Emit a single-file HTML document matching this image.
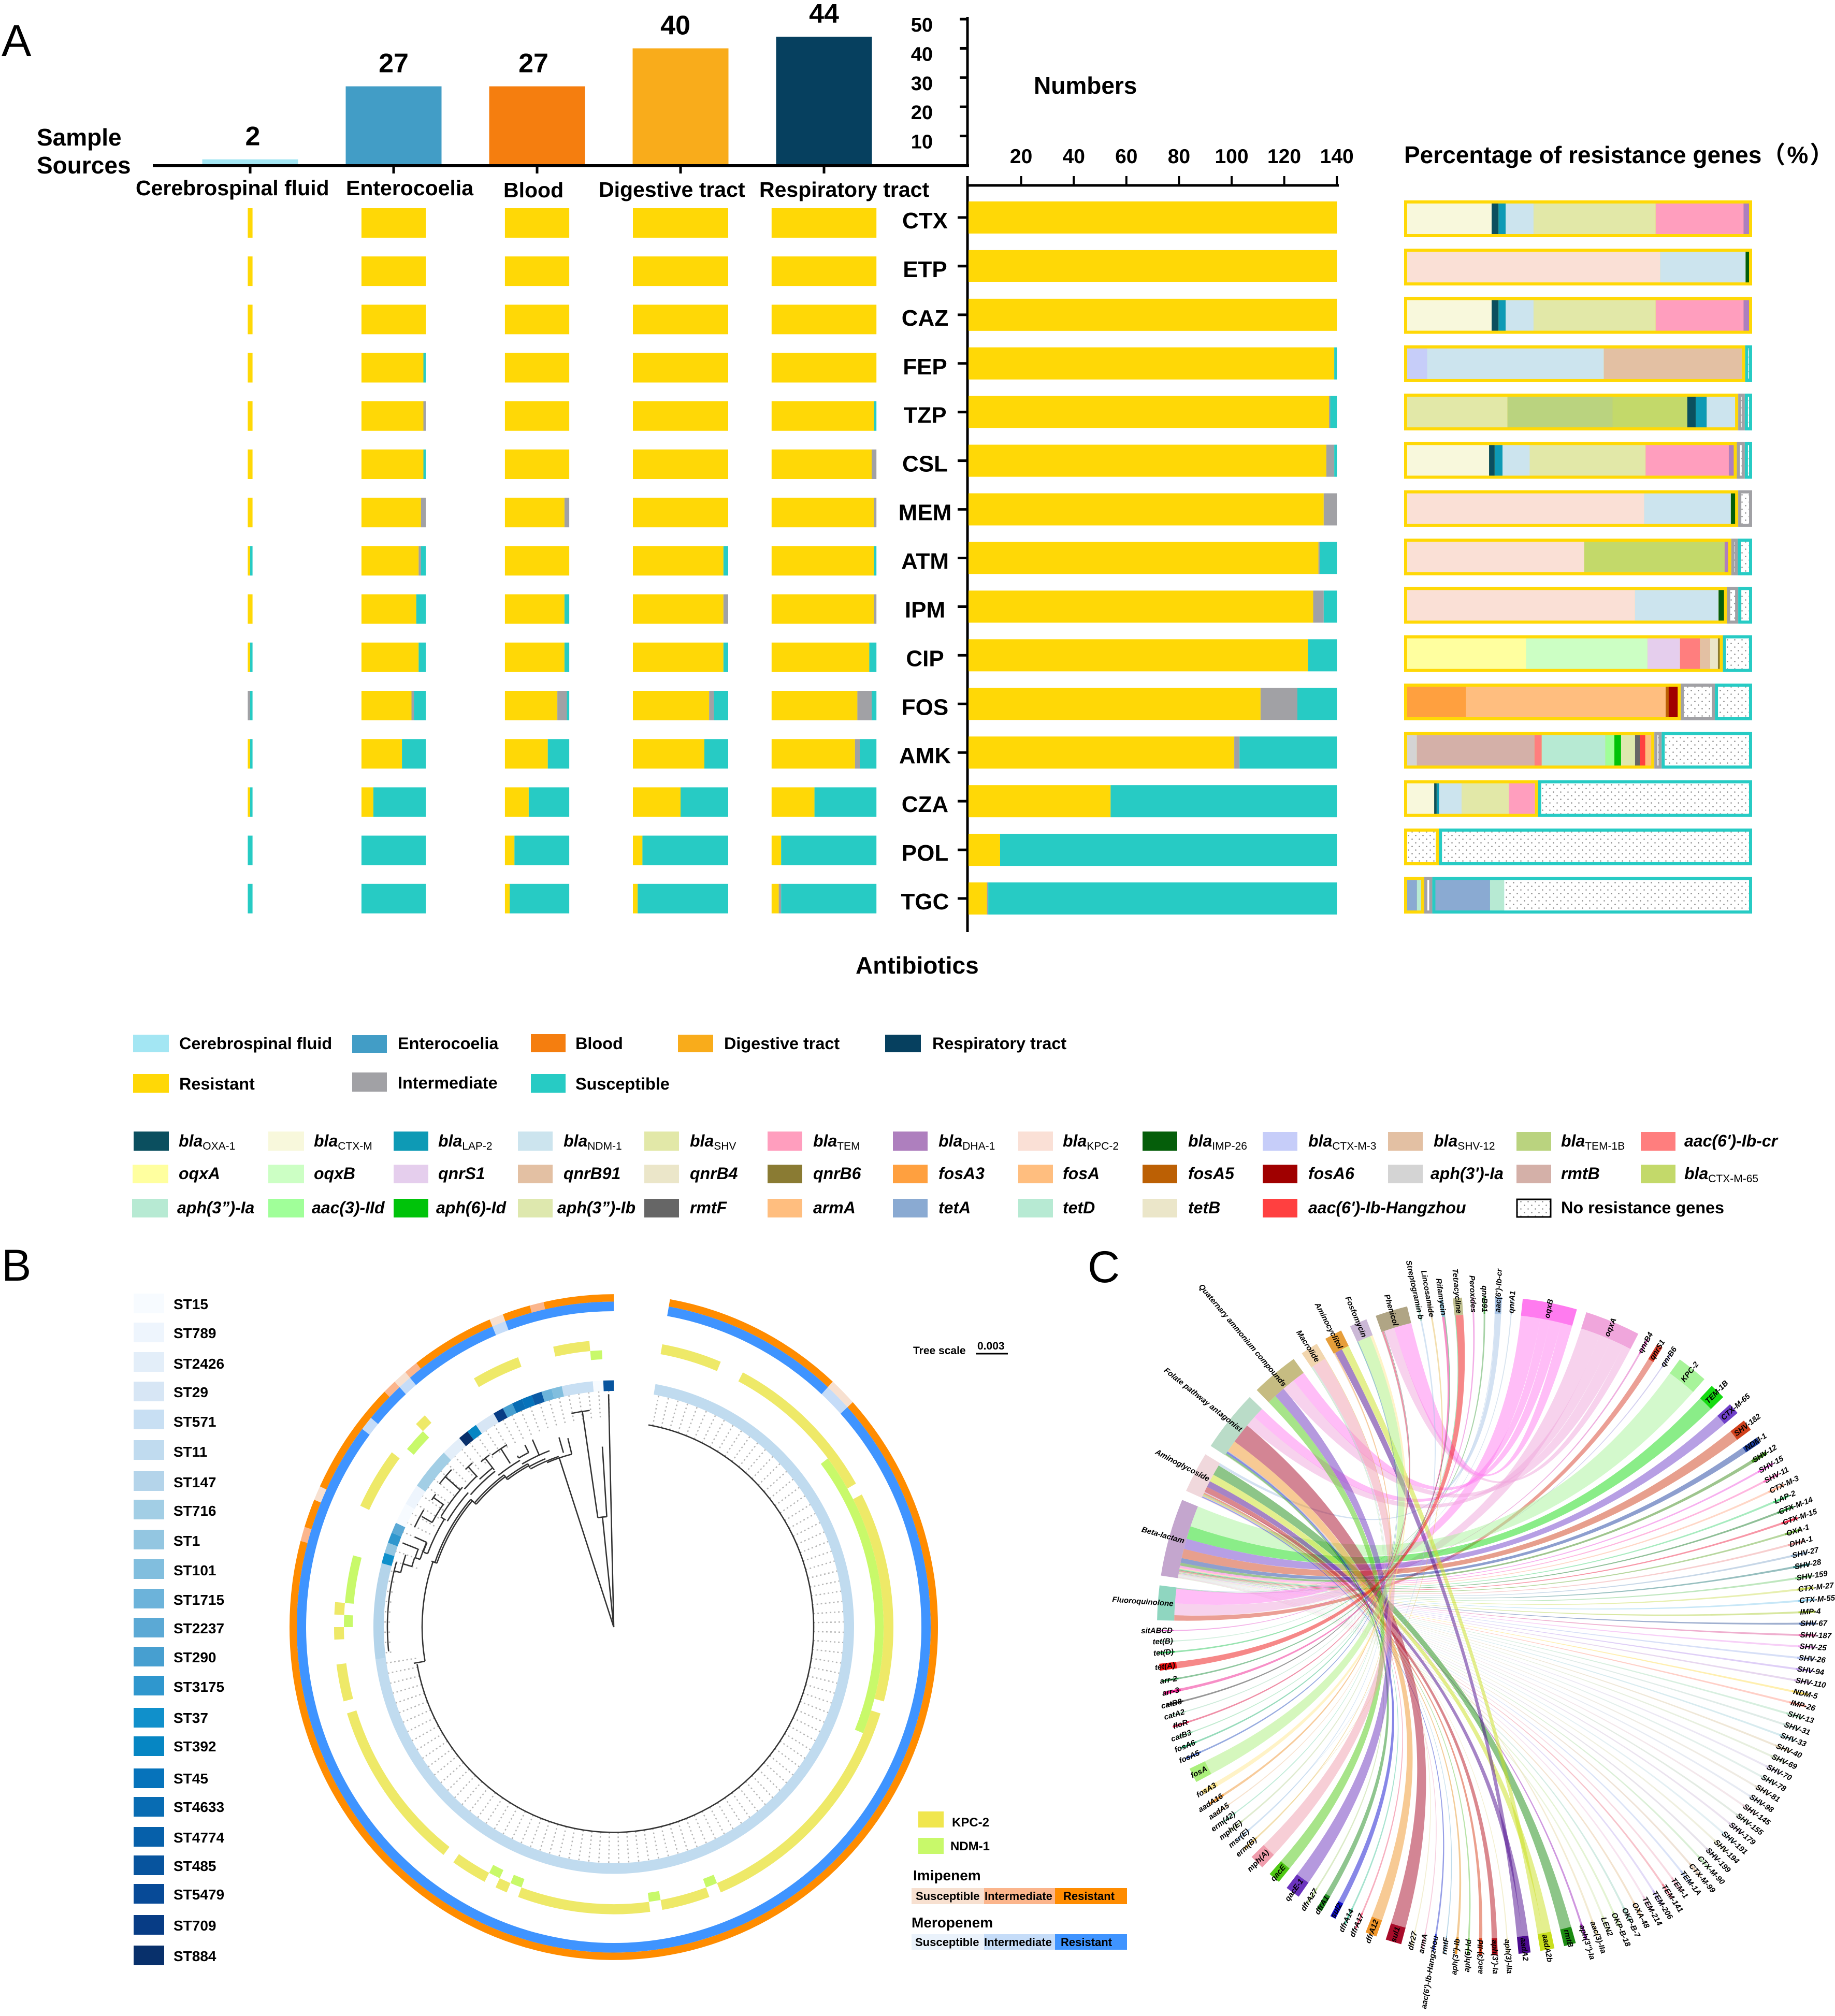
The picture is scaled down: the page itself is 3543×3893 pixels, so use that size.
<!DOCTYPE html>
<html lang="en">
<head>
<meta charset="utf-8">
<title>Antimicrobial resistance overview</title>
<style>
html,body{margin:0;padding:0;background:#fff}
svg{display:block}
text{font-family:"Liberation Sans","Noto Sans CJK SC",sans-serif;fill:#000}
.b{font-weight:bold}
.leg{font-weight:bold;font-size:32.4px}
.gene{font-weight:bold;font-style:italic;font-size:32px}
.sub{font-weight:normal;font-style:normal;font-size:21px}
.st{font-weight:bold;font-size:28px}
.ax{font-weight:bold;font-size:46px}
.sc{font-weight:bold;font-size:41px}
</style>
</head>
<body>
<svg id="figure" xmlns="http://www.w3.org/2000/svg" width="3543" height="3893" viewBox="0 0 3543 3893">
<defs>
<pattern id="dots" patternUnits="userSpaceOnUse" width="14" height="14">
<rect width="14" height="14" fill="#fff"/>
<circle cx="3.5" cy="3.5" r="1.3" fill="#8a8a8a"/>
<circle cx="10.5" cy="10.5" r="1.3" fill="#8a8a8a"/>
</pattern>
</defs>
<rect width="3543" height="3893" fill="#fff"/>

<text x="3" y="108" font-size="86">A</text>
<text x="3" y="2473" font-size="86">B</text>
<text x="2100" y="2476" font-size="86">C</text>

<g id="panelA"></g>

<text class="ax" x="71" y="281">Sample</text>
<text class="ax" x="71" y="335">Sources</text>
<text class="sc" x="262" y="377">Cerebrospinal fluid</text>
<text class="sc" x="668" y="377">Enterocoelia</text>
<text class="sc" x="972" y="381">Blood</text>
<text class="sc" x="1156" y="380">Digestive tract</text>
<text class="sc" x="1466" y="380">Respiratory tract</text>
<text class="ax" x="1996" y="181">Numbers</text>
<text class="ax" x="1652" y="1880">Antibiotics</text>
<text class="b" x="2711" y="315" font-size="46">Percentage of resistance genes<tspan letter-spacing="3">（%）</tspan></text>

<g>
<rect x="257" y="1998" width="69" height="34" fill="#A3E6F3"/>
<text class="leg" x="346" y="2026">Cerebrospinal fluid</text>
<rect x="680" y="1999" width="67" height="34" fill="#429DC6"/>
<text class="leg" x="768" y="2026">Enterocoelia</text>
<rect x="1025" y="1997" width="67" height="35" fill="#F57E0F"/>
<text class="leg" x="1111" y="2026">Blood</text>
<rect x="1309" y="1998" width="68" height="34" fill="#F9AC1B"/>
<text class="leg" x="1398" y="2026">Digestive tract</text>
<rect x="1709" y="1998" width="69" height="34" fill="#06405F"/>
<text class="leg" x="1800" y="2026">Respiratory tract</text>
<rect x="257" y="2074" width="69" height="36" fill="#FFD806"/>
<text class="leg" x="346" y="2104">Resistant</text>
<rect x="680" y="2071" width="67" height="37" fill="#A1A1A5"/>
<text class="leg" x="768" y="2102">Intermediate</text>
<rect x="1025" y="2074" width="67" height="36" fill="#27CBC4"/>
<text class="leg" x="1111" y="2104">Susceptible</text>
</g>

<g>
<g>
<rect x="258" y="2185" width="68" height="37" fill="#0B4F5F"/>
<text class="gene" x="345" y="2214">bla<tspan class="sub" dy="6">OXA-1</tspan></text>
<rect x="518" y="2185" width="69" height="37" fill="#F8F8DC"/>
<text class="gene" x="606" y="2214">bla<tspan class="sub" dy="6">CTX-M</tspan></text>
<rect x="760" y="2185" width="67" height="37" fill="#0E9AB5"/>
<text class="gene" x="846" y="2214">bla<tspan class="sub" dy="6">LAP-2</tspan></text>
<rect x="1000" y="2185" width="67" height="37" fill="#CCE4EE"/>
<text class="gene" x="1088" y="2214">bla<tspan class="sub" dy="6">NDM-1</tspan></text>
<rect x="1244" y="2185" width="67" height="37" fill="#E2E8A8"/>
<text class="gene" x="1332" y="2214">bla<tspan class="sub" dy="6">SHV</tspan></text>
<rect x="1482" y="2185" width="67" height="37" fill="#FF9EBE"/>
<text class="gene" x="1570" y="2214">bla<tspan class="sub" dy="6">TEM</tspan></text>
<rect x="1724" y="2185" width="67" height="37" fill="#AE7FBE"/>
<text class="gene" x="1812" y="2214">bla<tspan class="sub" dy="6">DHA-1</tspan></text>
<rect x="1966" y="2185" width="67" height="37" fill="#FAE0D6"/>
<text class="gene" x="2052" y="2214">bla<tspan class="sub" dy="6">KPC-2</tspan></text>
<rect x="2206" y="2185" width="67" height="37" fill="#055E0A"/>
<text class="gene" x="2294" y="2214">bla<tspan class="sub" dy="6">IMP-26</tspan></text>
<rect x="2438" y="2186" width="67" height="36" fill="#C6CDF9"/>
<text class="gene" x="2526" y="2214">bla<tspan class="sub" dy="6">CTX-M-3</tspan></text>
<rect x="2680" y="2186" width="67" height="36" fill="#E3C0A3"/>
<text class="gene" x="2768" y="2214">bla<tspan class="sub" dy="6">SHV-12</tspan></text>
<rect x="2928" y="2186" width="67" height="36" fill="#BAD37F"/>
<text class="gene" x="3014" y="2214">bla<tspan class="sub" dy="6">TEM-1B</tspan></text>
<rect x="3168" y="2186" width="67" height="36" fill="#FF7E7E"/>
<text class="gene" x="3252" y="2214">aac(6')-Ib-cr</text>
</g>
<g>
<rect x="256" y="2249" width="69" height="36" fill="#FFFF9F"/>
<text class="gene" x="345" y="2277">oqxA</text>
<rect x="518" y="2249" width="69" height="36" fill="#CCFFC4"/>
<text class="gene" x="606" y="2277">oqxB</text>
<rect x="760" y="2249" width="67" height="36" fill="#E5CEED"/>
<text class="gene" x="846" y="2277">qnrS1</text>
<rect x="1000" y="2249" width="67" height="36" fill="#E3C0A3"/>
<text class="gene" x="1088" y="2277">qnrB91</text>
<rect x="1244" y="2249" width="67" height="36" fill="#EBE6C9"/>
<text class="gene" x="1332" y="2277">qnrB4</text>
<rect x="1482" y="2249" width="67" height="36" fill="#8A7B33"/>
<text class="gene" x="1570" y="2277">qnrB6</text>
<rect x="1724" y="2249" width="67" height="36" fill="#FFA03F"/>
<text class="gene" x="1812" y="2277">fosA3</text>
<rect x="1966" y="2249" width="67" height="36" fill="#FFBE7F"/>
<text class="gene" x="2052" y="2277">fosA</text>
<rect x="2206" y="2249" width="67" height="36" fill="#BC6004"/>
<text class="gene" x="2294" y="2277">fosA5</text>
<rect x="2438" y="2249" width="67" height="36" fill="#A00000"/>
<text class="gene" x="2526" y="2277">fosA6</text>
<rect x="2680" y="2249" width="67" height="36" fill="#D4D4D4"/>
<text class="gene" x="2762" y="2277">aph(3')-Ia</text>
<rect x="2928" y="2249" width="67" height="36" fill="#D4B0A8"/>
<text class="gene" x="3014" y="2277">rmtB</text>
<rect x="3168" y="2249" width="67" height="36" fill="#C3D96A"/>
<text class="gene" x="3252" y="2277">bla<tspan class="sub" dy="6">CTX-M-65</tspan></text>
</g>
<g>
<rect x="255" y="2315" width="69" height="36" fill="#B7EAD3"/>
<text class="gene" x="342" y="2343">aph(3”)-Ia</text>
<rect x="518" y="2315" width="69" height="36" fill="#A0FF99"/>
<text class="gene" x="602" y="2343">aac(3)-IId</text>
<rect x="760" y="2315" width="67" height="36" fill="#00C30A"/>
<text class="gene" x="842" y="2343">aph(6)-Id</text>
<rect x="1000" y="2315" width="67" height="36" fill="#DEE8AE"/>
<text class="gene" x="1076" y="2343">aph(3”)-Ib</text>
<rect x="1244" y="2315" width="67" height="36" fill="#666666"/>
<text class="gene" x="1332" y="2343">rmtF</text>
<rect x="1482" y="2315" width="67" height="36" fill="#FFBE7F"/>
<text class="gene" x="1570" y="2343">armA</text>
<rect x="1724" y="2315" width="67" height="36" fill="#8AAAD2"/>
<text class="gene" x="1812" y="2343">tetA</text>
<rect x="1966" y="2315" width="67" height="36" fill="#B7EAD3"/>
<text class="gene" x="2052" y="2343">tetD</text>
<rect x="2206" y="2315" width="67" height="36" fill="#EBE6C9"/>
<text class="gene" x="2294" y="2343">tetB</text>
<rect x="2438" y="2315" width="67" height="36" fill="#FF4040"/>
<text class="gene" x="2526" y="2343">aac(6')-Ib-Hangzhou</text>
<rect x="2929" y="2316" width="65" height="34" fill="url(#dots)" stroke="#000" stroke-width="3"/>
<text class="leg" x="3014" y="2343">No resistance genes</text>
</g>
</g>

<g>
<rect x="258" y="2498" width="59" height="38" fill="#F7FBFF"/><text class="st" x="335" y="2528">ST15</text>
<rect x="258" y="2554" width="59" height="38" fill="#EEF5FD"/><text class="st" x="335" y="2584">ST789</text>
<rect x="258" y="2611" width="59" height="38" fill="#E3EEF9"/><text class="st" x="335" y="2643">ST2426</text>
<rect x="258" y="2668" width="59" height="38" fill="#D7E6F5"/><text class="st" x="335" y="2698">ST29</text>
<rect x="258" y="2722" width="59" height="38" fill="#C8DFF3"/><text class="st" x="335" y="2755">ST571</text>
<rect x="258" y="2781" width="59" height="38" fill="#C0DBEF"/><text class="st" x="335" y="2813">ST11</text>
<rect x="258" y="2841" width="59" height="38" fill="#B4D4EA"/><text class="st" x="335" y="2872">ST147</text>
<rect x="258" y="2896" width="59" height="38" fill="#A2CEE5"/><text class="st" x="335" y="2927">ST716</text>
<rect x="258" y="2954" width="59" height="38" fill="#93C6E1"/><text class="st" x="335" y="2985">ST1</text>
<rect x="258" y="3011" width="59" height="38" fill="#81BEDE"/><text class="st" x="335" y="3042">ST101</text>
<rect x="258" y="3068" width="59" height="38" fill="#6CB3DA"/><text class="st" x="335" y="3099">ST1715</text>
<rect x="258" y="3124" width="59" height="38" fill="#5BA9D5"/><text class="st" x="335" y="3154">ST2237</text>
<rect x="258" y="3180" width="59" height="38" fill="#479FD0"/><text class="st" x="335" y="3210">ST290</text>
<rect x="258" y="3236" width="59" height="38" fill="#2F97CE"/><text class="st" x="335" y="3267">ST3175</text>
<rect x="258" y="3298" width="59" height="38" fill="#1090CB"/><text class="st" x="335" y="3327">ST37</text>
<rect x="258" y="3353" width="59" height="38" fill="#0686C3"/><text class="st" x="335" y="3382">ST392</text>
<rect x="258" y="3415" width="59" height="38" fill="#0673BB"/><text class="st" x="335" y="3444">ST45</text>
<rect x="258" y="3470" width="59" height="38" fill="#086CB3"/><text class="st" x="335" y="3499">ST4633</text>
<rect x="258" y="3528" width="59" height="38" fill="#0660AA"/><text class="st" x="335" y="3558">ST4774</text>
<rect x="258" y="3583" width="59" height="38" fill="#07549E"/><text class="st" x="335" y="3613">ST485</text>
<rect x="258" y="3638" width="59" height="38" fill="#074A97"/><text class="st" x="335" y="3668">ST5479</text>
<rect x="258" y="3698" width="59" height="38" fill="#073C85"/><text class="st" x="335" y="3728">ST709</text>
<rect x="258" y="3757" width="59" height="38" fill="#08306B"/><text class="st" x="335" y="3787">ST884</text>
</g>

<g id="panelB"></g>

<g>
<text x="1763" y="2615" font-size="21" font-weight="bold">Tree scale</text>
<text x="1887" y="2606" font-size="21" font-weight="bold">0.003</text>
<line x1="1884" x2="1946" y1="2614" y2="2614" stroke="#000" stroke-width="3"/>
<rect x="1773" y="3498" width="49" height="31" fill="#F0E64E"/>
<text x="1838" y="3527" font-size="24" font-weight="bold">KPC-2</text>
<rect x="1773" y="3549" width="49" height="31" fill="#C8F96A"/>
<text x="1835" y="3573" font-size="24" font-weight="bold">NDM-1</text>
<text x="1763" y="3631" font-size="28" font-weight="bold">Imipenem</text>
<rect x="1760" y="3646" width="140" height="31" fill="#F7E0D0"/>
<rect x="1900" y="3646" width="137" height="31" fill="#FBB58C"/>
<rect x="2037" y="3646" width="139" height="31" fill="#FF8C00"/>
<text x="1768" y="3669" font-size="22" font-weight="bold">Susceptible</text>
<text x="1901" y="3669" font-size="22" font-weight="bold">Intermediate</text>
<text x="2053" y="3669" font-size="22" font-weight="bold">Resistant</text>
<text x="1760" y="3722" font-size="28" font-weight="bold">Meropenem</text>
<rect x="1760" y="3735" width="140" height="30" fill="#EAF2FB"/>
<rect x="1900" y="3735" width="137" height="30" fill="#C5DCF8"/>
<rect x="2037" y="3735" width="139" height="30" fill="#3F94FF"/>
<text x="1767" y="3758" font-size="22" font-weight="bold">Susceptible</text>
<text x="1900" y="3758" font-size="22" font-weight="bold">Intermediate</text>
<text x="2048" y="3758" font-size="22" font-weight="bold">Resistant</text>
</g>

<g id="panelC"></g>
</svg>

<script>
/* ---------- Panel A data ---------- */
const antibiotics = ['CTX','ETP','CAZ','FEP','TZP','CSL','MEM','ATM','IPM','CIP','FOS','AMK','CZA','POL','TGC'];
const sourceNames = ['Cerebrospinal fluid','Enterocoelia','Blood','Digestive tract','Respiratory tract'];
const sourceCounts = [2,27,27,40,44];
const sourceColors = ['#A3E6F3','#429DC6','#F57E0F','#F9AC1B','#06405F'];
const topAxisTicks = [10,20,30,40,50];
const numberAxisTicks = [20,40,60,80,100,120,140];
/* resistant, intermediate, susceptible isolates for each antibiotic */
const totalRIS = [[140,0,0],[140,0,0],[140,0,0],[139,0,1],[137,0.5,2.5],[136,3,1],[135,5,0],[133,0.5,6.5],[131,4,5],[129,0,11],[111,14,15],[101,2,37],[54,0,86],[12,0,128],[7,0.5,132.5]];
const csfRIS = [[2,0,0],[2,0,0],[2,0,0],[2,0,0],[2,0,0],[2,0,0],[2,0,0],[1,0,1],[2,0,0],[1,0,1],[0,1,1],[1,0,1],[1,0,1],[0,0,2],[0,0,2]];
const enterocoeliaRIS = [[27,0,0],[27,0,0],[27,0,0],[26,0,1],[26,1,0],[26,0,1],[25,2,0],[24,1,2],[23,0,4],[24,0,3],[21,1,5],[17,0,10],[5,0,22],[0,0,27],[0,0,27]];
const bloodRIS = [[27,0,0],[27,0,0],[27,0,0],[27,0,0],[27,0,0],[27,0,0],[25,2,0],[27,0,0],[25,0,2],[25,0,2],[22,4,1],[18,0,9],[10,0,17],[4,0,23],[2,0,25]];
const digestiveRIS = [[40,0,0],[40,0,0],[40,0,0],[40,0,0],[40,0,0],[40,0,0],[40,0,0],[38,0,2],[38,2,0],[38,0,2],[32,2,6],[30,0,10],[20,0,20],[4,0,36],[2,0,38]];
const respiratoryRIS = [[44,0,0],[44,0,0],[44,0,0],[44,0,0],[43,0,1],[42,2,0],[43,1,0],[43,0,1],[43,1,0],[41,0,3],[36,6,2],[35,2,7],[18,0,26],[4,0,40],[3,1,40]];
const risColors = ['#FFD806','#A1A1A5','#27CBC4'];
const risNames = ['resistant','intermediate','susceptible'];
/* share of the percentage bar held by R / I / S */
const groupShares = [[100,0,0],[100,0,0],[100,0,0],[98,0,2],[96,1.9,2.1],[95.6,2.3,2.1],[96,4,0],[94,1.9,4.1],[92.8,3.2,4],[91.6,0,8.4],[79.5,9.8,10.7],[71.9,2.1,26],[38.5,0,61.5],[10,0,90],[5.8,2.3,91.9]];
const geneFill = {oxa1:'#0B4F5F',ctxm:'#F8F8DC',lap2:'#0E9AB5',ndm1:'#CCE4EE',shv:'#E2E8A8',tem:'#FF9EBE',dha1:'#AE7FBE',kpc2:'#FAE0D6',imp26:'#055E0A',ctxm3:'#C6CDF9',shv12:'#E3C0A3',tem1b:'#BAD37F',aaccr:'#FF7E7E',oqxA:'#FFFF9F',oqxB:'#CCFFC4',qnrS1:'#E5CEED',qnrB91:'#E3C0A3',qnrB4:'#EBE6C9',qnrB6:'#8A7B33',fosA3:'#FFA03F',fosA:'#FFBE7F',fosA5:'#BC6004',fosA6:'#A00000',aph3Ia:'#D4D4D4',rmtB:'#D4B0A8',ctxm65:'#C3D96A',aph3ppIa:'#B7EAD3',aac3IId:'#A0FF99',aph6Id:'#00C30A',aph3ppIb:'#DEE8AE',rmtF:'#666666',armA:'#FFBE7F',tetA:'#8AAAD2',tetD:'#B7EAD3',hangzhou:'#FF4040',none:'url(#dots)'};
const resistantGenes = [
 [['ctxm',24.7],['oxa1',2],['lap2',2.1],['ndm1',8.2],['shv',35.7],['tem',25.7],['dha1',1.6]],
 [['kpc2',74],['ndm1',25],['imp26',1]],
 [['ctxm',24.7],['oxa1',2],['lap2',2.1],['ndm1',8.2],['shv',35.7],['tem',25.7],['dha1',1.6]],
 [['ctxm3',5.9],['ndm1',52.3],['shv12',40.9]],
 [['shv',30],['tem1b',31.5],['ctxm65',22.3],['oxa1',2.5],['lap2',3.3],['ndm1',8.5]],
 [['ctxm',25],['oxa1',1.7],['lap2',2.4],['ndm1',8.3],['shv',35.4],['tem',25.4],['dha1',1.5]],
 [['kpc2',72.4],['ndm1',26.5],['imp26',1.3]],
 [['kpc2',55.5],['ctxm65',44],['dha1',1.1]],
 [['kpc2',72],['ndm1',26.4],['imp26',1.7]],
 [['oqxA',38.3],['oqxB',39.1],['qnrS1',10.5],['aaccr',6.4],['qnrB91',3.3],['qnrB4',2.5],['qnrB6',0.6]],
 [['fosA3',22],['fosA',74.8],['fosA5',1.1],['fosA6',3.4]],
 [['aph3Ia',4.1],['rmtB',49.5],['aaccr',3],['aph3ppIa',26.8],['aac3IId',3.8],['aph6Id',2.8],['aph3ppIb',5.9],['rmtF',2],['hangzhou',2.3],['armA',2.5]],
 [['ctxm',21],['oxa1',1.9],['lap2',1.9],['ndm1',17.5],['shv',36.8],['tem',20.3]],
 [['none',100]],
 [['tetA',70],['tetD',30]]
];
const susceptibleGenes = [[],[],[],[['none',100]],[['none',100]],[['none',100]],[],[['none',100]],[['none',100]],[['none',100]],[['none',100]],[['none',100]],[['none',100]],[['none',100]],[['tetA',17.4],['tetD',4.5],['none',78]]];

/* ---------- Panel B data ---------- */
const stColors = {ST15:'#F7FBFF',ST789:'#EEF5FD',ST2426:'#E3EEF9',ST29:'#D7E6F5',ST571:'#C8DFF3',ST11:'#C0DBEF',ST147:'#B4D4EA',ST716:'#A2CEE5',ST1:'#93C6E1',ST101:'#81BEDE',ST1715:'#6CB3DA',ST2237:'#5BA9D5',ST290:'#479FD0',ST3175:'#2F97CE',ST37:'#1090CB',ST392:'#0686C3',ST45:'#0673BB',ST4633:'#086CB3',ST4774:'#0660AA',ST485:'#07549E',ST5479:'#0B5AA5',ST709:'#073C85',ST884:'#08306B'};
const isolateCount = 140;
/* consecutive isolates around the tree: [sequence type, number of isolates] */
const stRuns = [['ST11',101],['ST147',9],['ST37',1],['ST1',1],['ST3175',1],['ST2237',1],['ST15',2],['ST789',2],['ST716',4],['ST2426',2],['ST884',1],['ST392',1],['ST29',2],['ST709',1],['ST290',1],['ST4633',1],['ST45',1],['ST5479',1],['ST1715',1],['ST101',1],['ST571',3],['ST15',1],['ST485',1]];
const kpcIsolateRanges = [[0,5],[7,20],[21,38],[39,59],[60,64],[65,76],[77,78],[79,82],[83,97],[98,101],[103,104],[105,106],[114,119],[122,123],[128,132],[135,138]];
const ndmIsolateRanges = [[17,41],[59,60],[64,65],[76,77],[78,79],[104,105],[106,110],[120,122],[138,139]];
const imipenemIntermediate = [110,122,124,134];
const imipenemSusceptible = [13,14,113,123,131];
const meropenemIntermediate = [13,14,119,123,131];
const meropenemSusceptible = [];
/* tree branches in polar form: radial [angle, depth0, depth1] and arc [depth, angle0, angle1] */
const treeRadials = [[358.7,0,438],[354,0,208],[341.7,0,334],[351.5,208,410],[356.3,208,340],[346,335,366],[343.5,342,372],[336,353,386],[333.4,367,383],[330,367,372],[327,367,400],[322,375,403],[317,386,412],[311,392,431],[305,400,425],[299.3,402,425],[293.8,395,420],[291,385,393],[291.2,406,437],[288.8,395,405],[284,424,437],[286.3,406,424],[260,370,392],[289.4,362,373],[311,352,366],[323.5,345,356],[331.6,340,349],[301.8,382,393]];
const treeArcs = [[386,10,259.6],[370,260,289.4],[362,289.4,311],[366,289.4,311],[352,311,323.5],[356,311,323.5],[345,323.5,331.6],[349,323.5,331.6],[338,331.6,341.7],[343,331.6,337.4],[335,337.4,346],[410,348.5,353.5],[208,351.5,356.3],[367,330,333.4],[400,324,329],[403,320.5,323.4],[412,316,318.5],[431,308.7,313.4],[425,304.2,306],[428,296,301],[402,299.3,305],[394,291,293.8],[405,288.8,291.3],[395,288.8,293.8],[437,264,286.2],[424,284,288.7],[406,286.3,288.8],[385,291,301.8],[378,301.8,312],[393,302,312],[372,312,322],[362,322,330],[354,330,339.5],[388,312,317],[380,317,322]];

/* ---------- Panel C data ---------- */
const classSectors = [['Fluoroquinolone',6.1,'#8FD6C0'],['Beta-lactam',13.7,'#C4A6CE'],['Aminoglycoside',7.2,'#F0D8DC'],['Folate pathway antagonist',10.9,'#BADCC8'],['Quaternary ammonium compounds',8.4,'#C6BC82'],['Macrolide',3.1,'#F2D6AE'],['Aminocyclitol',3.1,'#E69E3A'],['Fosfomycin',3.1,'#CBB8D6'],['Phenicol',5.7,'#B0A585'],['Streptogramin b',0.3,'#9FD0C0'],['Lincosamide',0.3,'#D8C8B0'],['Rifamycin',0.6,'#88BBD0'],['Tetracycline',1.6,'#C0C090'],['Peroxides',0.3,'#F0B0E0']];
const geneSectors = [["qnrB91",0.3,'#4FA84F'],["aac(6')-Ib-cr",1.2,'#A8C4E6'],["qnrA1",0.2,'#B0C8E0'],["oqxB",9.6,'#FF7BEF'],["oqxA",9.8,'#F0A6DC'],["qnrB4",0.3,'#E060C0'],["qnrS1",1.1,'#D8402C'],["qnrB6",0.2,'#A8A0E0'],["KPC-2",5.5,'#A8F49A'],["TEM-1B",2.8,'#16DB12'],["CTX-M-65",2,'#6F3FC9'],["SHV-182",2,'#D0401C'],["NDM-1",1.1,'#1D3FA0'],["SHV-12",0.6,'#3E8B1D'],
["SHV-15",0.36,'#F060E0'],["SHV-11",0.36,'#FF70C0'],["CTX-M-3",0.36,'#FFB090'],["LAP-2",0.36,'#50D880'],["CTX-M-14",0.36,'#208030'],["CTX-M-15",0.36,'#F03050'],["OXA-1",0.36,'#70B040'],["DHA-1",0.36,'#F0A0A0'],["SHV-27",0.36,'#8FB0D0'],["SHV-28",0.36,'#2F8080'],["SHV-159",0.36,'#7FD080'],["CTX-M-27",0.36,'#D0E060'],["CTX-M-55",0.36,'#90D0F0'],["IMP-4",0.36,'#B0D040'],["SHV-67",0.36,'#4060A0'],["SHV-187",0.36,'#E060A0'],["SHV-25",0.36,'#F0A0F0'],["SHV-26",0.36,'#B0C0F0'],["SHV-94",0.36,'#C0A0F0'],["SHV-110",0.36,'#D0B0E0'],["NDM-5",0.36,'#FFE060'],["IMP-26",0.36,'#FFA090'],["SHV-13",0.36,'#B0E0C0'],["SHV-31",0.36,'#C0D8D0'],["SHV-33",0.36,'#B0D8E0'],["SHV-40",0.36,'#E0D0B0'],["SHV-69",0.36,'#D0E0C0'],["SHV-70",0.36,'#D8D0E8'],["SHV-78",0.36,'#C8E0D8'],["SHV-81",0.36,'#E0D8C8'],["SHV-98",0.36,'#D0D8E8'],["SHV-145",0.36,'#E8D0D8'],["SHV-155",0.36,'#C8D8C8'],["SHV-179",0.36,'#D8C8E0'],["SHV-191",0.36,'#C8E0E8'],["SHV-194",0.36,'#E0E0C0'],["SHV-199",0.36,'#D0C8D8'],["CTX-M-90",0.36,'#B8E0B0'],["CTX-M-99",0.36,'#E0C8B0'],["TEM-1A",0.36,'#B8C8F0'],["TEM-1",0.36,'#F0B8C8'],["TEM-141",0.36,'#F08898'],["TEM-206",0.36,'#C8B8F0'],["TEM-214",0.36,'#F0C8E0'],["OXA-48",0.36,'#E8C8A0'],["OKP-B-7",0.36,'#A8D8C8'],["OKP-B-18",0.36,'#C8E8A8'],["LEN2",0.36,'#D8E8B8'],["aac(3)-IIa",0.36,'#E8D8A8'],["aph(3'')-Ia",0.36,'#A030C0'],
["rmtB",2.1,'#1C8C12'],["aadA2b",2.5,'#C9DF1E'],["aadA2",2.1,'#4B0A8E'],["aph(3)-IIa",0.2,'#E8E0A0'],["aph(3')-Ia",1,'#B5121E'],["aac(3)-IId",0.6,'#D8401C'],["aph(6)-Id",0.3,'#70C850'],["aph(3'')-Ib",0.4,'#E89830'],["rmtF",0.2,'#80B8D8'],["aac(6')-Ib-Hangzhou",0.3,'#3040D0'],["armA",0.2,'#F0A0C0'],["dfr27",0.2,'#E8E0A8'],
["sul1",2.8,'#A80C2A'],["dfrA12",2,'#F0962A'],["dfrA17",0.3,'#F06080'],["dfrA14",0.3,'#50C8A0'],["sul2",1,'#1010D0'],["dfrA1",1,'#208C20'],["dfrA27",0.3,'#B8D890'],["qacE-1",2.6,'#6B33BE'],["qacE",2.1,'#4FC914'],["mph(A)",2.6,'#F09DAD'],["erm(B)",0.3,'#E8C060'],["msr(E)",0.3,'#A8C8E8'],["mph(E)",0.3,'#C0D8A0'],["erm(42)",0.2,'#80D8B0'],["aadA5",0.2,'#F0C8A0'],["aadA16",0.4,'#F09838'],["fosA3",0.8,'#FFE890'],["fosA",2.6,'#ABF07C'],["fosA5",0.3,'#3058C0'],["fosA6",0.3,'#30B878'],["catB3",0.2,'#80D8A0'],["floR",0.3,'#E02050'],["catA2",0.2,'#A0D8B8'],["catB8",0.3,'#303030'],["arr-3",0.5,'#F02090'],["arr-2",0.3,'#209040'],["tet(A)",1.2,'#EE1111'],["tet(D)",0.3,'#30C860'],["tet(B)",0.2,'#A8E0C0'],["sitABCD",0.2,'#E860D0']];
const betaLactamMinorGenes = ["LEN2","OKP-B-18","OKP-B-7","OXA-48","TEM-214","TEM-206","TEM-141","TEM-1","TEM-1A","CTX-M-99","CTX-M-90","SHV-199","SHV-194","SHV-191","SHV-179","SHV-155","SHV-145","SHV-98","SHV-81","SHV-78","SHV-70","SHV-69","SHV-40","SHV-33","SHV-31","SHV-13","IMP-26","NDM-5","SHV-110","SHV-94","SHV-26","SHV-25","SHV-187","SHV-67","IMP-4","CTX-M-55","CTX-M-27","SHV-159","SHV-28","SHV-27"];
const betaLactamMinorValue = 0.25;
const chordLinks = [
 ['Fluoroquinolone','qnrS1',9],['Fluoroquinolone','oqxA',20],['Fluoroquinolone','oqxB',24],['Fluoroquinolone','qnrB4',0.6],['Fluoroquinolone','qnrB6',0.3],['Fluoroquinolone','qnrB91',0.6],['Fluoroquinolone','qnrA1',0.3],["Fluoroquinolone","aac(6')-Ib-cr",0.6],
 ['Beta-lactam','DHA-1',1.2],['Beta-lactam','OXA-1',1.2],['Beta-lactam','CTX-M-15',1.2],['Beta-lactam','CTX-M-14',1.2],['Beta-lactam','LAP-2',1.4],['Beta-lactam','CTX-M-3',1.6],['Beta-lactam','SHV-11',2],['Beta-lactam','SHV-15',2],['Beta-lactam','SHV-12',5],['Beta-lactam','NDM-1',8],['Beta-lactam','SHV-182',16],['Beta-lactam','CTX-M-65',18],['Beta-lactam','TEM-1B',22],['Beta-lactam','KPC-2',36],
 ['Aminoglycoside','armA',1],['Aminoglycoside',"aac(6')-Ib-Hangzhou",2],['Aminoglycoside','rmtF',1],['Aminoglycoside',"aph(3'')-Ib",2],['Aminoglycoside','aph(6)-Id',2],['Aminoglycoside','aac(3)-IId',3],['Aminoglycoside','aph(3)-IIa',0.5],['Aminoglycoside','aac(3)-IIa',0.5],['Aminoglycoside',"aph(3'')-Ia",1],['Aminoglycoside',"aph(3')-Ia",10],['Aminoglycoside','aadA2',12],['Aminoglycoside','aadA2b',14],['Aminoglycoside','rmtB',20],['Aminoglycoside',"aac(6')-Ib-cr",5],
 ['Folate pathway antagonist','dfr27',0.3],['Folate pathway antagonist','dfrA27',0.5],['Folate pathway antagonist','dfrA1',2],['Folate pathway antagonist','sul2',2],['Folate pathway antagonist','dfrA14',0.6],['Folate pathway antagonist','dfrA17',0.6],['Folate pathway antagonist','dfrA12',12],['Folate pathway antagonist','sul1',22],['Folate pathway antagonist','oqxA',12],['Folate pathway antagonist','oqxB',12],
 ['Quaternary ammonium compounds','qacE',10],['Quaternary ammonium compounds','qacE-1',12],['Quaternary ammonium compounds','oqxA',14],['Quaternary ammonium compounds','oqxB',14],
 ['Macrolide','erm(42)',0.4],['Macrolide','mph(E)',0.8],['Macrolide','msr(E)',0.6],['Macrolide','mph(A)',14],['Macrolide','erm(B)',0.6],
 ['Aminocyclitol','aadA5',0.8],['Aminocyclitol','aadA16',1.5],['Aminocyclitol','aadA2',10],['Aminocyclitol','aadA2b',10],
 ['Fosfomycin','fosA6',0.8],['Fosfomycin','fosA5',0.8],['Fosfomycin','fosA',20],['Fosfomycin','fosA3',4],
 ['Phenicol','catB3',0.3],['Phenicol','floR',1.5],['Phenicol','catA2',0.3],['Phenicol','catB8',0.3],['Phenicol','oqxA',8],['Phenicol','oqxB',14],
 ['Streptogramin b','msr(E)',0.2],['Lincosamide','erm(B)',0.2],['Rifamycin','arr-3',1],['Rifamycin','arr-2',0.4],['Tetracycline','tet(B)',0.2],['Tetracycline','tet(D)',0.4],['Tetracycline','tet(A)',5],['Peroxides','sitABCD',0.2]
];

/* ---------- helpers ---------- */
const SVGNS = 'http://www.w3.org/2000/svg';
function make(tag, attrs, parent, text) {
  const el = document.createElementNS(SVGNS, tag);
  for (const k in attrs) el.setAttribute(k, attrs[k]);
  if (text !== undefined) el.textContent = text;
  parent.appendChild(el);
  return el;
}
function slug(s) { return String(s).toLowerCase().replace(/[^a-z0-9]+/g, '-').replace(/^-|-$/g, ''); }

/* ---------- Panel A ---------- */
const panelA = document.getElementById('panelA');
const rad = d => d * Math.PI / 180;
const topY = v => 319 - v * 5.64;
const sourceX = i => 483 + 277 * i;
const numberX = v => 1870 + v * 5.08;
const rowMain = i => 389 + 93.93 * i;
const rowSource = i => 402 + 93.2 * i;
const rowPct = i => 387 + 93.3 * i;
const pctX = p => 2711 + p * 6.72;
const sourcePerIsolate = 4.6;
const valueLabelShift = i => (i === 0 ? 5 : i === 2 ? -7 : i === 3 ? -10 : 0);

sourceCounts.forEach((v, i) => {
  const b = make('rect', {x: sourceX(i) - 92.5, y: topY(v), width: 185, height: 319 - topY(v), fill: sourceColors[i]}, panelA);
  
  
  const t = make('text', {x: sourceX(i) + valueLabelShift(i), y: topY(v) - 27, 'text-anchor': 'middle', 'font-size': 52, 'font-weight': 'bold'}, panelA, String(v));
  
  
  const k = make('line', {x1: sourceX(i), x2: sourceX(i), y1: 322, y2: 335, stroke: '#000', 'stroke-width': 5}, panelA);
  
  
});
const baseLine = make('line', {x1: 295, x2: 1871, y1: 320, y2: 320, stroke: '#000', 'stroke-width': 6}, panelA);


const countAxis = make('line', {x1: 1868, x2: 1868, y1: 33, y2: 320, stroke: '#000', 'stroke-width': 5}, panelA);


topAxisTicks.forEach(v => {
  const k = make('line', {x1: 1853, x2: 1868, y1: topY(v), y2: topY(v), stroke: '#000', 'stroke-width': 5}, panelA);
  
  
  const t = make('text', {x: 1801, y: topY(v) + 24, 'text-anchor': 'end', 'font-size': 38, 'font-weight': 'bold'}, panelA, String(v));
  
  
});

const numberAxis = make('line', {x1: 1866, x2: 2585, y1: 358, y2: 358, stroke: '#000', 'stroke-width': 5}, panelA);


numberAxisTicks.forEach(v => {
  const k = make('line', {x1: numberX(v), x2: numberX(v), y1: 340, y2: 358, stroke: '#000', 'stroke-width': 4}, panelA);
  
  
  const t = make('text', {x: numberX(v), y: 315, 'text-anchor': 'middle', 'font-size': 39, 'font-weight': 'bold'}, panelA, String(v));
  
  
});
const abAxis = make('line', {x1: 1868, x2: 1868, y1: 340, y2: 1800, stroke: '#000', 'stroke-width': 5}, panelA);



antibiotics.forEach((ab, r) => {
  /* antibiotic tick and label */
  const cy = rowMain(r) + 31;
  const k = make('line', {x1: 1849, x2: 1868, y1: cy, y2: cy, stroke: '#000', 'stroke-width': 5}, panelA);
  
  
  const t = make('text', {x: 1786, y: cy + 21, 'text-anchor': 'middle', 'font-size': 44, 'font-weight': 'bold'}, panelA, ab);
  
  

  /* total stacked bar */
  let acc = 0;
  totalRIS[r].forEach((v, c) => {
    if (v > 0) {
      const b = make('rect', {x: numberX(acc), y: rowMain(r), width: numberX(acc + v) - numberX(acc), height: 62, fill: risColors[c]}, panelA);
      
      
    }
    acc += v;
  });

  /* per-source stacked bars */
  [csfRIS, enterocoeliaRIS, bloodRIS, digestiveRIS, respiratoryRIS].forEach((series, s) => {
    const triple = series[r];
    const total = triple[0] + triple[1] + triple[2];
    let x = sourceX(s) - total * sourcePerIsolate / 2;
    triple.forEach((v, c) => {
      if (v > 0) {
        const b = make('rect', {x: x, y: rowSource(r), width: v * sourcePerIsolate, height: 57, fill: risColors[c]}, panelA);
        
        
      }
      x += v * sourcePerIsolate;
    });
  });

  /* percentage bars */
  let p = 0;
  groupShares[r].forEach((share, c) => {
    if (share <= 0) return;
    const x0 = pctX(p), x1 = pctX(p + share), y0 = rowPct(r), h = 71, inset = 6;
    const box = make('rect', {x: x0, y: y0, width: x1 - x0, height: h, fill: risColors[c]}, panelA);
    
    
    const inner = x1 - x0 - inset * 2;
    if (inner > 0) {
      let segs = c === 0 ? resistantGenes[r] : c === 2 ? susceptibleGenes[r] : [['none', 100]];
      if (!segs.length) segs = [['none', 100]];
      const sum = segs.reduce((a, g) => a + g[1], 0);
      let sx = x0 + inset;
      segs.forEach(g => {
        const w = inner * g[1] / sum;
        const seg = make('rect', {x: sx, y: y0 + inset, width: w, height: h - inset * 2, fill: geneFill[g[0]]}, panelA);
        
        
        sx += w;
      });
    }
    p += share;
  });
});

/* ---------- Panel B ---------- */
const panelB = document.getElementById('panelB');
const bx = 1185, by = 3142, bk = 1.027;
const startAngle = 10, stepAngle = 2.5;
const isoAngle = i => startAngle + stepAngle * i;
function bp(r, a) { return [bx + r * Math.sin(rad(a)), by - bk * r * Math.cos(rad(a))]; }
function ringPath(r0, r1, a0, a1) {
  const p = bp(r1, a0), q = bp(r1, a1), s = bp(r0, a1), u = bp(r0, a0);
  const lg = (a1 - a0) > 180 ? 1 : 0;
  return 'M' + p + 'A' + r1 + ' ' + (r1 * bk) + ' 0 ' + lg + ' 1 ' + q + 'L' + s + 'A' + r0 + ' ' + (r0 * bk) + ' 0 ' + lg + ' 0 ' + u + 'Z';
}
function drawRun(r0, r1, first, last, fill, name) {
  const el = make('path', {d: ringPath(r0, r1, isoAngle(first), isoAngle(last)), fill: fill}, panelB);
  
  
}
function drawCategoryRing(r0, r1, intermediate, susceptible, colors, label) {
  const cat = i => susceptible.includes(i) ? 'S' : intermediate.includes(i) ? 'I' : 'R';
  let start = 0;
  for (let i = 1; i <= isolateCount; i++) {
    if (i === isolateCount || cat(i) !== cat(start)) {
      drawRun(r0, r1, start, i, colors[cat(start)], label + '-ring-' + start);
      start = i;
    }
  }
}
drawCategoryRing(612, 626, imipenemIntermediate, imipenemSusceptible, {S:'#F7E0D0', I:'#FBB58C', R:'#FF8C00'}, 'imipenem');
drawCategoryRing(594, 612, meropenemIntermediate, meropenemSusceptible, {S:'#EAF2FB', I:'#C5DCF8', R:'#3F94FF'}, 'meropenem');
kpcIsolateRanges.forEach(rg => drawRun(521, 540, rg[0], rg[1], '#EEE968', 'kpc-2-arc-' + rg[0]));
ndmIsolateRanges.forEach(rg => drawRun(504, 521, rg[0], rg[1], '#C8F96A', 'ndm-1-arc-' + rg[0]));
let stCursor = 0;
stRuns.forEach(run => {
  drawRun(444, 464, stCursor, stCursor + run[1], stColors[run[0]], 'st-ring-' + slug(run[0]) + '-' + stCursor);
  stCursor += run[1];
});
for (let i = 0; i < isolateCount; i++) {
  const a = isoAngle(i) + stepAngle / 2;
  const inner = a < 262 ? 386 : a < 285 ? 432 : 395;
  const p = bp(inner, a), q = bp(444, a);
  const l = make('line', {x1: p[0], y1: p[1], x2: q[0], y2: q[1], stroke: '#b5b5b5', 'stroke-width': 2.5, 'stroke-dasharray': '3 5'}, panelB);
  
  
}
treeRadials.forEach((t, i) => {
  const p = bp(t[1], t[0]), q = bp(t[2], t[0]);
  const l = make('line', {x1: p[0], y1: p[1], x2: q[0], y2: q[1], stroke: '#333', 'stroke-width': 2.6}, panelB);
  
  
});
treeArcs.forEach((t, i) => {
  const p = bp(t[0], t[1]), q = bp(t[0], t[2]);
  const lg = (t[2] - t[1]) > 180 ? 1 : 0;
  const l = make('path', {d: 'M' + p + 'A' + t[0] + ' ' + (t[0] * bk) + ' 0 ' + lg + ' 1 ' + q, fill: 'none', stroke: '#333', 'stroke-width': 2.6}, panelB);
  
  
});

/* ---------- Panel C ---------- */
const panelC = document.getElementById('panelC');
const cx = 2870, cy = 3140, rOuter = 636, rInner = 603, rLabel = 606;
const chordStart = 271;
function cp(r, a) { return [cx + r * Math.sin(rad(a)), cy - r * Math.cos(rad(a))]; }
const allSectors = classSectors.concat(geneSectors);
const sectorSum = allSectors.reduce((a, s) => a + s[1], 0);
const sectorGap = (360 - sectorSum) / allSectors.length;
const sectorPos = {};
let walk = chordStart;
allSectors.forEach(s => {
  sectorPos[s[0]] = {start: walk, size: s[1], color: s[2], used: 0, total: 0};
  walk += s[1] + sectorGap;
});
const allLinks = chordLinks.concat(betaLactamMinorGenes.map(g => ['Beta-lactam', g, betaLactamMinorValue]));
/* minor beta-lactam links are laid out before the major ones */
const orderedLinks = allLinks.slice().sort((a, b) => (b[0] === 'Beta-lactam' && betaLactamMinorGenes.includes(b[1]) ? 1 : 0) - (a[0] === 'Beta-lactam' && betaLactamMinorGenes.includes(a[1]) ? 1 : 0));
orderedLinks.forEach(l => { sectorPos[l[0]].total += l[2]; sectorPos[l[1]].total += l[2]; });
function takeSpan(name, v) {
  const s = sectorPos[name];
  const w = s.size * v / s.total;
  const a0 = s.start + s.used;
  s.used += w;
  return [a0, a0 + w];
}
function arcTo(r, a0, a1) {
  const q = cp(r, a1);
  return 'A' + r + ' ' + r + ' 0 ' + ((a1 - a0) > 180 ? 1 : 0) + ' 1 ' + q;
}
orderedLinks.forEach((l, i) => {
  const a = takeSpan(l[0], l[2]), b = takeSpan(l[1], l[2]);
  const r = rInner;
  const d = 'M' + cp(r, a[0]) + arcTo(r, a[0], a[1]) + 'Q' + cx + ' ' + cy + ' ' + cp(r, b[0]) + arcTo(r, b[0], b[1]) + 'Q' + cx + ' ' + cy + ' ' + cp(r, a[0]) + 'Z';
  const el = make('path', {d: d, fill: sectorPos[l[1]].color, 'fill-opacity': 0.5}, panelC);
  
  
});
allSectors.forEach(s => {
  const pos = sectorPos[s[0]];
  const a0 = pos.start, a1 = pos.start + pos.size;
  const d = 'M' + cp(rOuter, a0) + arcTo(rOuter, a0, a1) + 'L' + cp(rInner, a1) + 'A' + rInner + ' ' + rInner + ' 0 0 0 ' + cp(rInner, a0) + 'Z';
  const el = make('path', {d: d, fill: s[2]}, panelC);
  
  
});
allSectors.forEach(s => {
  const pos = sectorPos[s[0]];
  const mid = (pos.start + pos.size / 2) % 360;
  const p = cp(rLabel, mid);
  const right = mid < 180;
  const rot = right ? mid - 90 : mid + 90;
  const t = make('text', {x: p[0], y: p[1], 'text-anchor': right ? 'start' : 'end', 'dominant-baseline': 'central', 'font-size': 15, 'font-weight': 'bold', 'font-style': 'italic', fill: '#111', transform: 'rotate(' + rot + ' ' + p[0] + ' ' + p[1] + ')'}, panelC, s[0]);
  
  
});
</script>
</body>
</html>
